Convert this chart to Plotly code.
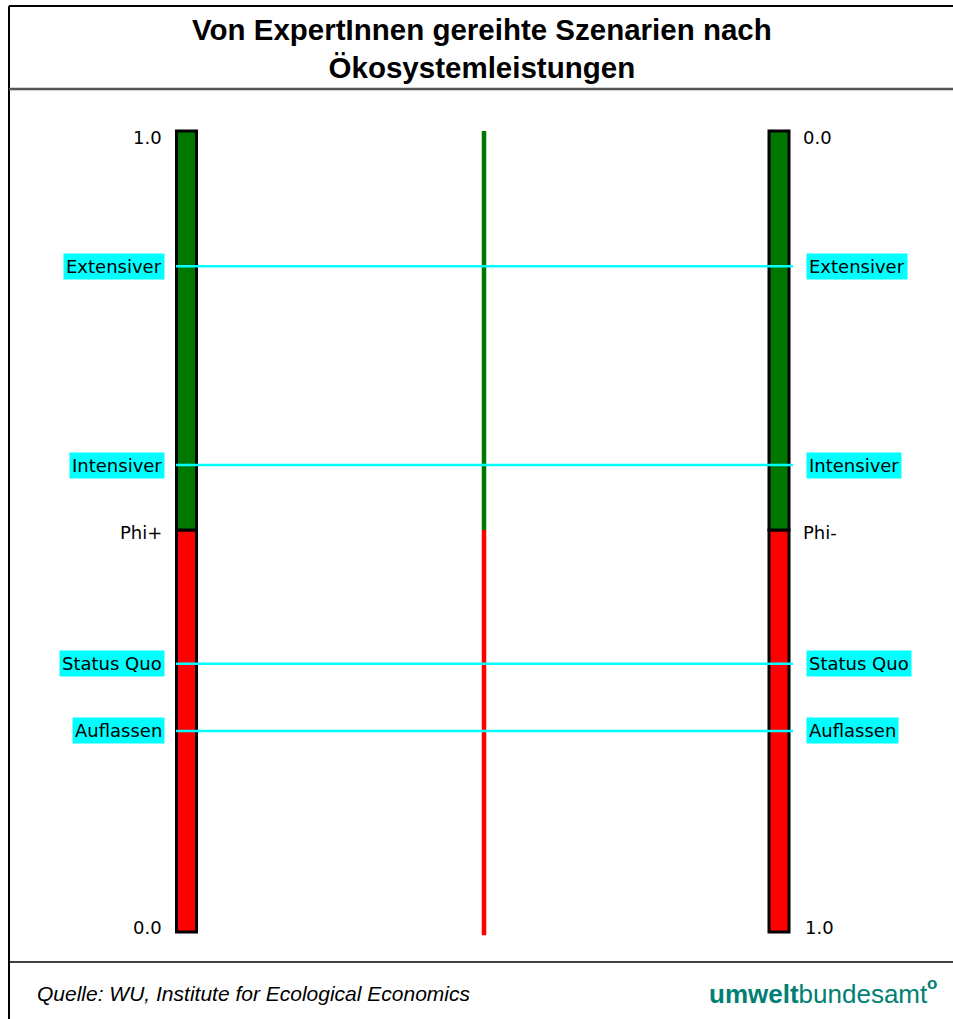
import plotly.graph_objects as go

# ---------------- data ----------------
scenarios = ["Extensiver", "Intensiver", "Status Quo", "Auflassen"]
phi_plus = [0.831, 0.583, 0.335, 0.251]      # left scale (1.0 top, 0.0 bottom)
phi_minus = [0.169, 0.417, 0.665, 0.749]     # right scale (0.0 top, 1.0 bottom)
phi_plus_split = 0.502                       # green/red boundary on Phi+ bar
phi_minus_split = 0.498                      # green/red boundary on Phi- bar
left_ticks = ["1.0", "0.0"]
right_ticks = ["0.0", "1.0"]
title_text = "Von ExpertInnen gereihte Szenarien nach<br>Ökosystemleistungen"
source_text = "Quelle: WU, Institute for Ecological Economics"

# ---------------- layout helpers ----------------
W, H = 953, 1019
TOP_PX, BOT_PX = 131, 932            # pixel rows of value 1 and 0
def v2p(p):                           # pixel row -> axis value
    return (BOT_PX - p) / (BOT_PX - TOP_PX)
def px(x):
    return x / W
def py(y):
    return 1 - y / H

X_LEFT, X_MID, X_RIGHT = 186.5, 484, 779
BAR_W = 20
GREEN, RED, CYAN = "#007800", "#FF0000", "#00FFFF"
TICK_FONT = dict(family="DejaVu Sans", size=18, color="#000000")

fig = go.Figure()

# Left (Phi+) bar: red from 0 to split, green from split to 1
fig.add_trace(go.Bar(x=[X_LEFT], y=[phi_plus_split], base=[0], width=BAR_W,
                     marker=dict(color=RED, line=dict(color="black", width=3)),
                     hoverinfo="skip", showlegend=False))
fig.add_trace(go.Bar(x=[X_LEFT], y=[1 - phi_plus_split], base=[phi_plus_split], width=BAR_W,
                     marker=dict(color=GREEN, line=dict(color="black", width=3)),
                     hoverinfo="skip", showlegend=False))
# Right (Phi-) bar: axis value = 1 - phi_minus
fig.add_trace(go.Bar(x=[X_RIGHT], y=[1 - phi_minus_split], base=[0], width=BAR_W,
                     marker=dict(color=RED, line=dict(color="black", width=3)),
                     hoverinfo="skip", showlegend=False))
fig.add_trace(go.Bar(x=[X_RIGHT], y=[phi_minus_split], base=[1 - phi_minus_split], width=BAR_W,
                     marker=dict(color=GREEN, line=dict(color="black", width=3)),
                     hoverinfo="skip", showlegend=False))

# Centre line
fig.add_trace(go.Scatter(x=[X_MID, X_MID], y=[1, phi_plus_split], mode="lines",
                         line=dict(color=GREEN, width=4.5), hoverinfo="skip", showlegend=False))
fig.add_trace(go.Scatter(x=[X_MID, X_MID], y=[phi_plus_split, -0.004], mode="lines",
                         line=dict(color=RED, width=4.5), hoverinfo="skip", showlegend=False))

# Scenario lines
for name, pp, pm in zip(scenarios, phi_plus, phi_minus):
    fig.add_trace(go.Scatter(x=[176, 793], y=[pp, 1 - pm], mode="lines",
                             line=dict(color=CYAN, width=2.5), hoverinfo="skip",
                             showlegend=False))

annotations = []
for name, pp, pm in zip(scenarios, phi_plus, phi_minus):
    annotations.append(dict(x=165, y=pp, xref="x", yref="y", text=name, showarrow=False,
                            xanchor="right", yanchor="middle", bgcolor=CYAN, borderpad=2,
                            font=TICK_FONT))
    annotations.append(dict(x=806, y=1 - pm, xref="x", yref="y", text=name, showarrow=False,
                            xanchor="left", yanchor="middle", bgcolor=CYAN, borderpad=2,
                            font=TICK_FONT))

# scale labels
annotations += [
    dict(x=164, y=1, text=left_ticks[0], xanchor="right", yanchor="top", yshift=6),
    dict(x=164, y=0, text=left_ticks[1], xanchor="right", yanchor="bottom", yshift=-8),
    dict(x=801, y=1, text=right_ticks[0], xanchor="left", yanchor="top", yshift=6),
    dict(x=803, y=0, text=right_ticks[1], xanchor="left", yanchor="bottom", yshift=-8),
    dict(x=164, y=phi_plus_split, text="Phi+", xanchor="right", yanchor="middle", yshift=-3),
    dict(x=801, y=1 - phi_minus_split, text="Phi-", xanchor="left", yanchor="middle", yshift=-3),
]
for a in annotations[-6:]:
    a.update(xref="x", yref="y", showarrow=False, font=TICK_FONT)

# Title, source, logo
annotations += [
    dict(x=px(482), y=py(48), xref="paper", yref="paper", text="<b>" + title_text + "</b>",
         showarrow=False, xanchor="center", yanchor="middle",
         font=dict(family="Liberation Sans", size=29.5, color="black")),
    dict(x=px(35), y=py(993), xref="paper", yref="paper", text="<i>" + source_text + "</i>",
         showarrow=False, xanchor="left", yanchor="middle",
         font=dict(family="Liberation Sans", size=21, color="black")),
    dict(x=px(707), y=py(994), xref="paper", yref="paper",
         text="<b>umwelt</b>bundesamt", showarrow=False, xanchor="left", yanchor="middle",
         font=dict(family="Liberation Sans", size=26, color="#007F74")),
    dict(x=px(932), y=py(983), xref="paper", yref="paper",
         text="<b>o</b>", showarrow=False, xanchor="center", yanchor="middle",
         font=dict(family="Liberation Sans", size=17, color="#007F74")),
]

shapes = [
    dict(type="line", xref="paper", yref="paper", x0=px(9), x1=1, y0=py(6), y1=py(6),
         line=dict(color="black", width=2)),
    dict(type="line", xref="paper", yref="paper", x0=px(9), x1=px(9), y0=py(6), y1=0,
         line=dict(color="black", width=2)),
    dict(type="line", xref="paper", yref="paper", x0=px(9), x1=1, y0=py(89), y1=py(89),
         line=dict(color="#555555", width=2.5)),
    dict(type="line", xref="paper", yref="paper", x0=px(9), x1=1, y0=py(962), y1=py(962),
         line=dict(color="black", width=1.5)),
]

fig.update_layout(
    width=W, height=H,
    margin=dict(l=0, r=0, t=0, b=0),
    paper_bgcolor="white", plot_bgcolor="white",
    barmode="overlay",
    xaxis=dict(range=[0, W], visible=False, fixedrange=True),
    yaxis=dict(range=[v2p(H), v2p(0)], visible=False, fixedrange=True),
    annotations=annotations,
    shapes=shapes,
    showlegend=False,
)

fig.write_html("out.html", config={"displayModeBar": False},
               post_script="document.body.style.margin='0px';document.body.style.overflow='hidden';")
